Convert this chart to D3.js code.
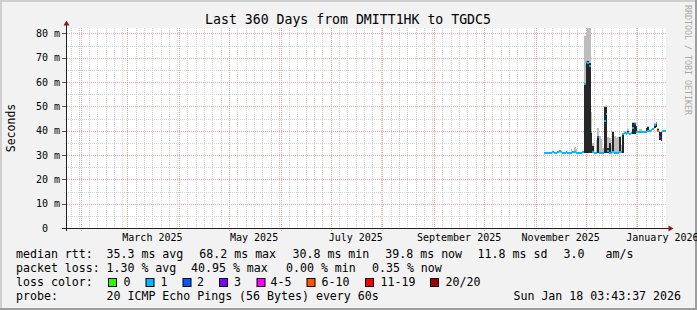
<!DOCTYPE html>
<html><head><meta charset="utf-8">
<script src="https://cdn.jsdelivr.net/npm/d3@7"></script>
<style>
html,body{margin:0;padding:0;background:#f2f2f2;overflow:hidden}
text{font-family:"DejaVu Sans Mono",monospace;white-space:pre}
</style></head><body>
<svg id="c" width="697" height="310"></svg>
<script>
// ---------- data ----------
const title = "Last 360 Days from DMITT1HK to TGDC5";
const rangeStart = new Date(2025, 0, 23, 3, 43, 37);
const rangeEnd = new Date(2026, 0, 18, 3, 43, 37);
const firstSampleDay = new Date(2025, 10, 6); // daily samples from Nov 6 2025
// median rtt (ms), one per day
const median = [31.0,31.0,30.9,31.0,31.0,31.1,31.0,31.0,31.4,31.8,31.3,31.0,
  31.0,31.1,31.0,31.0,31.0,31.1,31.2,31.0,31.0,31.0,31.0,31.1,
  59.0,68.2,68.0,66.5,39.5,31.3,31.0,31.0,37.4,31.0,31.0,31.0,
  44.0,47.0,31.5,31.0,31.0,31.2,31.0,31.0,31.0,31.3,31.2,38.5,
  39.2,38.8,39.2,38.6,38.9,41.0,42.7,39.5,39.4,39.6,39.3,39.4,
  39.5,39.6,40.0,39.8,40.3,40.5,42.3,43.0,39.8,37.5,36.0,39.8,39.8];
// loss class index per day (into lossLabels)
const lossClass = [1,1,1,1,1,1,1,1,1,1,0,1,
  1,1,1,1,1,1,1,1,1,1,1,1,
  1,1,1,1,1,1,1,1,2,1,1,1,
  1,1,1,1,1,1,1,1,1,1,1,1,
  1,1,1,1,1,1,2,1,1,1,1,1,
  1,1,1,1,1,1,1,1,5,3,3,1,1];
// smoke: lowest ping, inner (dense) top, outer top (ms)
const smokeLo = [30.8,30.8,30.7,30.8,30.8,30.8,30.8,30.8,30.9,31.0,30.9,30.8,
  30.8,30.8,30.8,30.8,30.8,30.8,30.8,30.8,30.8,30.8,30.8,30.8,
  30.9,31.0,31.0,31.0,31.0,30.9,30.8,30.8,30.9,30.8,30.8,30.8,
  31.0,31.0,30.9,30.8,30.8,30.8,30.8,30.8,30.8,30.9,30.9,31.0,
  38.7,38.4,38.7,38.2,38.5,38.6,38.8,39.0,38.9,39.1,38.9,38.9,
  39.0,39.1,39.4,39.3,39.8,40.0,41.0,41.5,39.4,36.0,35.6,39.4,39.4];
const smokeInner = [null,null,null,null,null,null,null,null,null,null,null,null,
  null,null,null,null,null,null,null,null,null,null,null,null,
  59.0,68.6,68.6,68.0,40.0,33.7,null,null,38.0,null,null,null,
  49.7,49.7,33.0,35.0,null,39.5,null,null,null,37.4,null,38.5,
  null,null,40.0,null,null,43.3,43.3,42.0,null,null,null,null,
  null,41.0,41.6,null,null,null,42.7,43.0,40.5,39.6,39.6,null,null];
const smokeOuter = [null,null,null,null,null,null,null,null,null,32.0,null,null,
  null,null,null,null,32.3,null,33.4,32.5,null,null,null,null,
  79.0,80.0,82.0,82.0,47.7,35.0,null,36.0,41.0,38.0,36.5,33.0,
  50.0,50.5,37.4,37.0,34.0,40.0,38.0,37.0,37.5,38.0,34.0,null,
  40.0,40.0,40.5,null,null,43.5,43.5,42.0,null,40.5,40.5,null,
  null,41.0,42.0,null,null,null,43.0,43.5,41.0,null,null,null,null];
const lossLabels = ["0","1","2","3","4-5","6-10","11-19","20/20"];
const lossColors = ["#26ff00","#00b8ff","#0059ff","#7e00ff","#ff00ff","#ff5500","#ff0000","#a00000"];
const yMajor = [10,20,30,40,50,60,70,80];
const yMinor = [5,15,25,35,45,55,65,75];
const yLabelValues = [0,10,20,30,40,50,60,70,80];
const monthLabelDates = [new Date(2025,2,1),new Date(2025,4,1),new Date(2025,6,1),new Date(2025,8,1),new Date(2025,10,1),new Date(2026,0,1)];
const legendRtt = ["median rtt:","35.3 ms avg","68.2 ms max","30.8 ms min","39.8 ms now","11.8 ms sd","3.0   am/s"];
const legendLoss = ["packet loss:","1.30 % avg","40.95 % max","0.00 % min","0.35 % now"];
const probeText = ["probe:","20 ICMP Echo Pings (56 Bytes) every 60s","Sun Jan 18 03:43:37 2026"];
const yLabelText = "Seconds";
const watermark = "RRDTOOL / TOBI OETIKER";

// ---------- drawing ----------
const W = 697, H = 310;
const svg = d3.select("#c");
const x = d3.scaleTime().domain([rangeStart, rangeEnd]).range([66, 666]);
const y = d3.scaleLinear().domain([0, 82.2]).range([228, 28]);

// background & frame
svg.append("rect").attr("width", W).attr("height", H).attr("fill", "#f2f2f2");
svg.append("rect").attr("x",0).attr("y",0).attr("width",W).attr("height",2).attr("fill","#cfcfcf");
svg.append("rect").attr("x",0).attr("y",0).attr("width",2).attr("height",H).attr("fill","#cfcfcf");
svg.append("rect").attr("x",0).attr("y",H-2).attr("width",W).attr("height",2).attr("fill","#9e9e9e");
svg.append("rect").attr("x",W-2).attr("y",0).attr("width",2).attr("height",H).attr("fill","#9e9e9e");

// canvas
svg.append("rect").attr("x",66).attr("y",28).attr("width",600).attr("height",200).attr("fill","#fff");

const gridMinor = "#d4d4d4";
const gridMajor = "#eea4a4";
const g = svg.append("g").attr("shape-rendering","crispEdges");

// vertical grid
const minorDays = d3.timeDay.every(5).range(rangeStart, rangeEnd).filter(d => d.getDate() !== 1);
const majorMonths = d3.timeMonth.range(rangeStart, rangeEnd);
g.selectAll(".vmin").data(minorDays).join("line")
  .attr("x1", d => Math.round(x(d)) + 0.5).attr("x2", d => Math.round(x(d)) + 0.5)
  .attr("y1", 28).attr("y2", 230)
  .attr("stroke", gridMinor).attr("stroke-dasharray","1,1");
g.selectAll(".vmaj").data(majorMonths).join("line")
  .attr("x1", d => Math.round(x(d)) + 0.5).attr("x2", d => Math.round(x(d)) + 0.5)
  .attr("y1", 28).attr("y2", 231)
  .attr("stroke", gridMajor).attr("stroke-dasharray","1,1");
// horizontal grid
g.selectAll(".hmin").data(yMinor).join("line")
  .attr("y1", d => Math.round(y(d)) + 0.5).attr("y2", d => Math.round(y(d)) + 0.5)
  .attr("x1", 64).attr("x2", 666)
  .attr("stroke", gridMinor).attr("stroke-dasharray","1,1");
g.selectAll(".hmaj").data(yMajor).join("line")
  .attr("y1", d => Math.round(y(d)) + 0.5).attr("y2", d => Math.round(y(d)) + 0.5)
  .attr("x1", 63).attr("x2", 666)
  .attr("stroke", gridMajor).attr("stroke-dasharray","1,1");
// y ticks
g.selectAll(".ytick").data(yLabelValues).join("line")
  .attr("y1", d => Math.round(y(d)) + 0.5).attr("y2", d => Math.round(y(d)) + 0.5)
  .attr("x1", 62).attr("x2", 66).attr("stroke", "#555");

// samples
const samples = median.map((m, i) => {
  const t0 = d3.timeDay.offset(firstSampleDay, i);
  let t1 = d3.timeDay.offset(firstSampleDay, i + 1);
  if (t1 > rangeEnd) t1 = rangeEnd;
  return {t0, t1, m, loss: lossClass[i], lo: smokeLo[i], inner: smokeInner[i], outer: smokeOuter[i]};
});
const data = svg.append("g").attr("shape-rendering","crispEdges");
data.selectAll(".outer").data(samples.filter(d => d.outer != null)).join("rect")
  .attr("x", d => x(d.t0)).attr("width", d => x(d.t1) - x(d.t0))
  .attr("y", d => y(d.outer)).attr("height", d => y(d.lo) - y(d.outer))
  .attr("fill", "#bdbdbd");
data.selectAll(".inner").data(samples.filter(d => d.inner != null)).join("rect")
  .attr("x", d => x(d.t0)).attr("width", d => x(d.t1) - x(d.t0))
  .attr("y", d => y(d.inner)).attr("height", d => y(d.lo) - y(d.inner))
  .attr("fill", "#262626");
const sw = 82.2 / 200;
data.selectAll(".med").data(samples).join("rect")
  .attr("x", d => x(d.t0)).attr("width", d => x(d.t1) - x(d.t0))
  .attr("y", d => y(d.m + sw)).attr("height", d => y(d.m - sw) - y(d.m + sw))
  .attr("fill", d => lossColors[d.loss]);

// axes
const axisCol = "#1f1f1f", arrowCol = "#8b1c1c";
svg.append("line").attr("x1", 62).attr("x2", 669).attr("y1", 228.5).attr("y2", 228.5).attr("stroke", axisCol);
svg.append("line").attr("x1", 66.5).attr("x2", 66.5).attr("y1", 231).attr("y2", 25).attr("stroke", axisCol);
svg.append("path").attr("d","M668.5,225.5L668.5,231.5L673.5,228.5Z").attr("fill", arrowCol);
svg.append("path").attr("d","M63.5,25.5L69.5,25.5L66.5,20.5Z").attr("fill", arrowCol);

// y labels
svg.selectAll(".ylab").data(yLabelValues).join("text")
  .attr("x", 60).attr("y", d => y(d) + 3.6)
  .attr("text-anchor","end").attr("font-size","10px").attr("fill","#000")
  .text(d => d === 0 ? "0\u00a0\u00a0" : d + " m");
// month labels
const fmt = d3.timeFormat("%B %Y");
svg.selectAll(".xlab").data(monthLabelDates).join("text")
  .attr("x", d => x(d3.timeDay.offset(d, 15))).attr("y", 241)
  .attr("text-anchor","middle").attr("font-size","10px").attr("fill","#000")
  .text(d => fmt(d));

// title
svg.append("text").attr("x", 348).attr("y", 24.3).attr("text-anchor","middle")
  .attr("font-size","13.2px").attr("fill","#000").text(title);
// vertical label
svg.append("text").attr("transform","translate(15,128) rotate(-90)").attr("text-anchor","middle")
  .attr("font-size","11.5px").attr("fill","#000").text(yLabelText);
// watermark
svg.append("text").attr("transform","translate(685,5) rotate(90)")
  .attr("font-size","8.3px").attr("fill","#a8a8a8").text(watermark);

// legend
const lf = "11.6px";
function put(str, xx, yy, anchor) {
  svg.append("text").attr("x", xx).attr("y", yy).attr("font-size", lf)
    .attr("text-anchor", anchor || "start").attr("fill","#000").text(str);
}
const rttX = [16,106.5,199.3,292.5,385.3,477.6,563.6];
legendRtt.forEach((s,i) => put(s, rttX[i], 258));
const lossX = [16,106.5,191,286,372];
legendLoss.forEach((s,i) => put(s, lossX[i], 272));
put("loss color:", 16, 286);
const boxX = [108,145.5,182.5,219,256.5,306.5,365,430];
const boxLabX = [123.5,160.5,197,234,270.5,321.5,380.5,445.5];
lossLabels.forEach((l,i) => {
  svg.append("rect").attr("x", boxX[i] + 0.5).attr("y", 278.5).attr("width", 8).attr("height", 8)
    .attr("fill", lossColors[i]).attr("stroke", "#000").attr("stroke-width", 1);
  put(l, boxLabX[i], 286);
});
put(probeText[0], 16, 300);
put(probeText[1], 106.5, 300);
put(probeText[2], 681, 300, "end");
</script></body></html>
